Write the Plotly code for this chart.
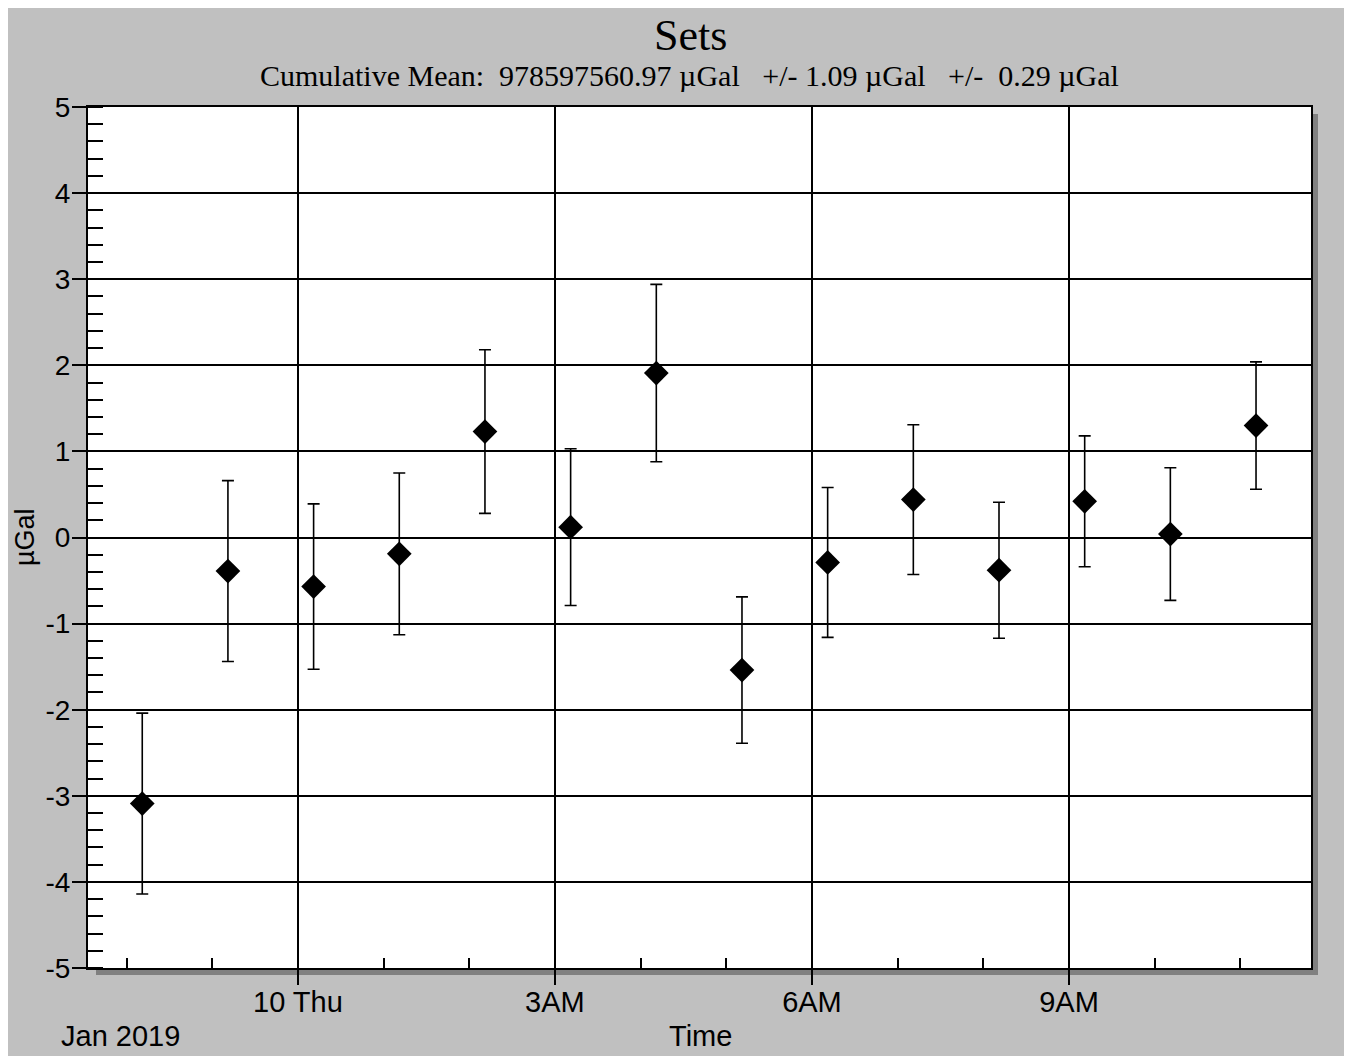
import plotly.graph_objects as go

# ---- data ----
times = [
    "2019-01-09 22:11", "2019-01-09 23:11", "2019-01-10 00:11", "2019-01-10 01:11",
    "2019-01-10 02:11", "2019-01-10 03:11", "2019-01-10 04:11", "2019-01-10 05:11",
    "2019-01-10 06:11", "2019-01-10 07:11", "2019-01-10 08:11", "2019-01-10 09:11",
    "2019-01-10 10:11", "2019-01-10 11:11",
]
values = [-3.09, -0.39, -0.57, -0.19, 1.23, 0.12, 1.91, -1.54, -0.29, 0.44, -0.38, 0.42, 0.04, 1.30]
errors = [1.05, 1.05, 0.96, 0.94, 0.95, 0.91, 1.03, 0.85, 0.87, 0.87, 0.79, 0.76, 0.77, 0.74]

x_tickvals = ["2019-01-10 00:00", "2019-01-10 03:00", "2019-01-10 06:00", "2019-01-10 09:00"]
x_ticktext = ["10 Thu", "3AM", "6AM", "9AM"]
x_range = ["2019-01-09 21:33", "2019-01-10 11:49:30"]
y_tickvals = [-5, -4, -3, -2, -1, 0, 1, 2, 3, 4, 5]
y_ticktext = ["-5", "-4", "-3", "-2", "-1", "0", "1", "2", "3", "4", "5"]
y_range = [-5, 5]

title_text = "Sets"
subtitle_text = "Cumulative Mean:  978597560.97 \u00b5Gal   +/- 1.09 \u00b5Gal   +/-  0.29 \u00b5Gal"

# ---- layout geometry (screen pixels; page has an 8px body margin) ----
W, H = 1352, 1056
OFF = 8
L, R, T, B = 88, 1311, 107, 968
PW, PH = R - L, B - T


def px(xp):
    return (xp - L) / PW


def py(yp):
    return (B - yp) / PH


SANS = "Liberation Sans, Arial, sans-serif"
SERIF = "Liberation Serif, Times New Roman, serif"

fig = go.Figure()
fig.add_trace(go.Scatter(
    x=times, y=values, mode="markers",
    marker=dict(symbol="diamond", size=19, color="black"),
    error_y=dict(type="data", array=errors, visible=True, color="black", thickness=1.6, width=6),
    showlegend=False,
))

shapes = [
    # drop shadow (right and bottom strips)
    dict(type="rect", xref="paper", yref="paper", x0=px(R), x1=px(R + 7), y0=py(B + 7), y1=py(T + 7),
         fillcolor="#808080", line=dict(width=0), layer="below"),
    dict(type="rect", xref="paper", yref="paper", x0=px(L + 8), x1=px(R + 7), y0=py(B + 7), y1=py(B),
         fillcolor="#808080", line=dict(width=0), layer="below"),
]

annotations = [
    dict(text=title_text, xref="paper", yref="paper", x=px(690), y=py(35), showarrow=False,
         xanchor="center", yanchor="middle", font=dict(family=SERIF, size=44, color="black")),
    dict(text=subtitle_text, xref="paper", yref="paper", x=px(689), y=py(75), showarrow=False,
         xanchor="center", yanchor="middle", font=dict(family=SERIF, size=30, color="black")),
    dict(text="Jan 2019", xref="paper", yref="paper", x=px(59), y=py(1036), showarrow=False,
         xanchor="left", yanchor="middle", font=dict(family=SANS, size=29, color="black")),
    dict(text="Time", xref="paper", yref="paper", x=px(700), y=py(1036), showarrow=False,
         xanchor="center", yanchor="middle", font=dict(family=SANS, size=29, color="black")),
    dict(text="\u00b5Gal", xref="paper", yref="paper", x=px(25), y=py(537), showarrow=False,
         textangle=-90, xanchor="center", yanchor="middle", font=dict(family=SANS, size=27, color="black")),
]

fig.update_layout(
    width=W, height=H,
    margin=dict(l=L - OFF, r=W - (R - OFF), t=T - OFF, b=H - (B - OFF), pad=0),
    paper_bgcolor="#c0c0c0",
    plot_bgcolor="white",
    shapes=shapes,
    annotations=annotations,
    showlegend=False,
)

fig.update_xaxes(
    type="date", range=x_range,
    tickmode="array", tickvals=x_tickvals, ticktext=x_ticktext,
    ticks="outside", ticklen=15, tickwidth=2, tickcolor="black",
    ticklabelstandoff=-8,
    tickfont=dict(family=SANS, size=29, color="black"),
    showgrid=True, gridcolor="black", gridwidth=2,
    showline=True, linecolor="black", linewidth=2, mirror=True,
    minor=dict(ticks="inside", ticklen=10, tickwidth=1.8, tickcolor="black",
               dtick=3600000, tick0="2019-01-10 00:00", showgrid=False),
    zeroline=False,
)

fig.update_yaxes(
    range=y_range, tickmode="array", tickvals=y_tickvals, ticktext=y_ticktext,
    ticks="outside", ticklen=14, tickwidth=2, tickcolor="black",
    ticklabelstandoff=-4,
    tickfont=dict(family=SANS, size=28, color="black"),
    showgrid=True, gridcolor="black", gridwidth=2,
    zeroline=True, zerolinecolor="black", zerolinewidth=2,
    showline=True, linecolor="black", linewidth=2, mirror=True,
    minor=dict(ticks="inside", ticklen=15, tickwidth=2, tickcolor="black",
               dtick=0.2, tick0=0, showgrid=False),
)

fig.write_html("out.html")
